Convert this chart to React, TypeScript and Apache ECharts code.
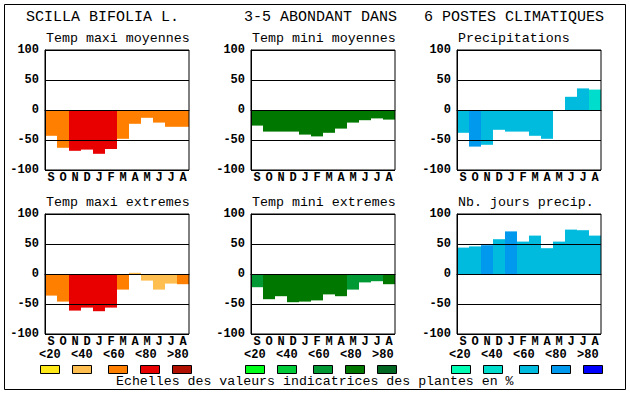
import React, { useEffect, useRef } from 'react';
import * as echarts from 'echarts';

const months = ['S', 'O', 'N', 'D', 'J', 'F', 'M', 'A', 'M', 'J', 'J', 'A'];
const headerTexts = ['SCILLA BIFOLIA L.', '3-5 ABONDANT DANS', '6 POSTES CLIMATIQUES'];
const panelTitles = [
  'Temp maxi moyennes',
  'Temp mini moyennes',
  'Precipitations',
  'Temp maxi extremes',
  'Temp mini extremes',
  'Nb. jours precip.',
];

// values (scale -100..100) and colour class (0:<20 1:<40 2:<60 3:<80 4:>80)
const tempMaxiMoy = [-43, -63, -68, -66, -73, -65, -48, -23, -13, -21, -28, -28];
const tempMaxiMoyClass = [2, 2, 3, 3, 3, 3, 2, 2, 2, 2, 2, 2];
const tempMiniMoy = [-26, -36, -36, -36, -41, -44, -38, -31, -21, -17, -14, -16];
const tempMiniMoyClass = [3, 3, 3, 3, 3, 3, 3, 3, 3, 3, 3, 3];
const precip = [-38, -61, -58, -33, -36, -36, -43, -48, 0, 22, 36, 34];
const precipClass = [2, 3, 2, 2, 2, 2, 2, 2, 2, 2, 2, 1];
const tempMaxiExt = [-36, -46, -61, -56, -62, -56, -26, 2, -11, -26, -16, -17];
const tempMaxiExtClass = [2, 2, 3, 3, 3, 3, 2, 1, 1, 1, 1, 2];
const tempMiniExt = [-22, -42, -37, -47, -46, -44, -34, -37, -26, -14, -12, -17];
const tempMiniExtClass = [2, 3, 3, 3, 3, 3, 3, 3, 2, 2, 2, 3];
const nbJours = [44, 46, 48, 58, 71, 54, 64, 43, 54, 74, 73, 64];
const nbJoursClass = [2, 2, 3, 2, 3, 2, 2, 2, 2, 2, 2, 2];

const scaleLabels = ['<20', '<40', '<60', '<80', '>80'];
const warmScale = ['#FFE818', '#FFBE50', '#FF8000', '#E80000', '#B01000'];
const greenScale = ['#00FF1A', '#00CC3A', '#009933', '#007800', '#006622'];
const blueScale = ['#00FFB4', '#00DDCC', '#00BBDD', '#0099EE', '#0000FF'];
const footerText = 'Echelles des valeurs indicatrices des plantes en %';

const MONO = '"Liberation Mono", "DejaVu Sans Mono", monospace';

export default function App() {
  const ref = useRef<HTMLDivElement>(null);

  useEffect(() => {
    if (!ref.current) return;
    const chart = echarts.init(ref.current, undefined, { renderer: 'svg' });

    const panels = [
      { v: tempMaxiMoy, c: tempMaxiMoyClass, p: warmScale },
      { v: tempMiniMoy, c: tempMiniMoyClass, p: greenScale },
      { v: precip, c: precipClass, p: blueScale },
      { v: tempMaxiExt, c: tempMaxiExtClass, p: warmScale },
      { v: tempMiniExt, c: tempMiniExtClass, p: greenScale },
      { v: nbJours, c: nbJoursClass, p: blueScale },
    ];
    const lefts = [45, 251, 457];
    const tops = [50, 214];

    const grid = panels.map((_, i) => ({
      left: lefts[i % 3],
      top: tops[Math.floor(i / 3)],
      width: 144,
      height: 120,
      show: true,
      borderColor: '#000',
      borderWidth: 1,
      backgroundColor: 'transparent',
      z: 10,
    }));

    const xAxis = panels.map((_, i) => ({
      type: 'category',
      gridIndex: i,
      data: months,
      axisLine: { show: true, lineStyle: { color: '#000', width: 1 } },
      axisTick: { show: false },
      axisLabel: {
        interval: 0,
        color: '#000',
        fontFamily: MONO,
        fontWeight: 'bold',
        fontSize: 12,
        margin: 2,
      },
      splitLine: { show: false },
      z: 10,
    }));

    const yAxis = panels.map((_, i) => ({
      type: 'value',
      gridIndex: i,
      min: -100,
      max: 100,
      interval: 50,
      z: 10,
      axisLine: { show: true, lineStyle: { color: '#000', width: 1 } },
      axisTick: { show: false },
      axisLabel: {
        color: '#000',
        fontFamily: MONO,
        fontWeight: 'bold',
        fontSize: 12,
        margin: 6,
      },
      splitLine: { show: true, lineStyle: { color: '#000', width: 1 } },
    }));

    const series = panels.map((pn, i) => ({
      type: 'bar',
      xAxisIndex: i,
      yAxisIndex: i,
      barCategoryGap: '0%',
      barGap: '0%',
      silent: true,
      data: pn.v.map((val, k) => ({ value: val, itemStyle: { color: pn.p[pn.c[k]] } })),
    }));

    const graphic: any[] = [];
    // frame
    graphic.push({
      type: 'rect',
      shape: { x: 4.5, y: 4.5, width: 621, height: 385 },
      style: { fill: 'none', stroke: '#000', lineWidth: 1 },
    });
    const headerX = [26, 244, 424];
    headerTexts.forEach((t, i) => {
      graphic.push({
        type: 'text',
        x: headerX[i],
        y: 17.5,
        style: { text: t, fontFamily: MONO, fontSize: 15, fill: '#000', align: 'left', verticalAlign: 'middle' },
      });
    });
    panelTitles.forEach((t, i) => {
      graphic.push({
        type: 'text',
        x: lefts[i % 3] + 1,
        y: i < 3 ? 38.5 : 202.5,
        style: { text: t, fontFamily: MONO, fontSize: 13.3, fill: '#000', align: 'left', verticalAlign: 'middle' },
      });
    });
    const groupLabelX = [39, 244, 449];
    const groupBoxX = [40, 245, 451];
    const labelOff = [0, 32, 64, 96, 128];
    const boxOff = [0, 32, 68, 100, 132];
    const palettes = [warmScale, greenScale, blueScale];
    palettes.forEach((pal, g) => {
      scaleLabels.forEach((lab, k) => {
        graphic.push({
          type: 'text',
          x: groupLabelX[g] + labelOff[k],
          y: 354.5,
          style: { text: lab, fontFamily: MONO, fontSize: 12, fontWeight: 'bold', fill: '#000', align: 'left', verticalAlign: 'middle' },
        });
        graphic.push({
          type: 'rect',
          shape: { x: groupBoxX[g] + boxOff[k] + 0.5, y: 365.5, width: 19, height: 8 },
          style: { fill: pal[k], stroke: '#000', lineWidth: 1 },
        });
      });
    });
    graphic.push({
      type: 'text',
      x: 116,
      y: 381.5,
      style: { text: footerText, fontFamily: MONO, fontSize: 13.25, fill: '#000', align: 'left', verticalAlign: 'middle' },
    });

    chart.setOption({
      animation: false,
      backgroundColor: '#fff',
      grid,
      xAxis,
      yAxis,
      series,
      graphic,
    } as any);

    return () => chart.dispose();
  }, []);

  return (
    <div
      ref={ref}
      style={{ position: 'fixed', left: 0, top: 0, width: 630, height: 394 }}
    />
  );
}
